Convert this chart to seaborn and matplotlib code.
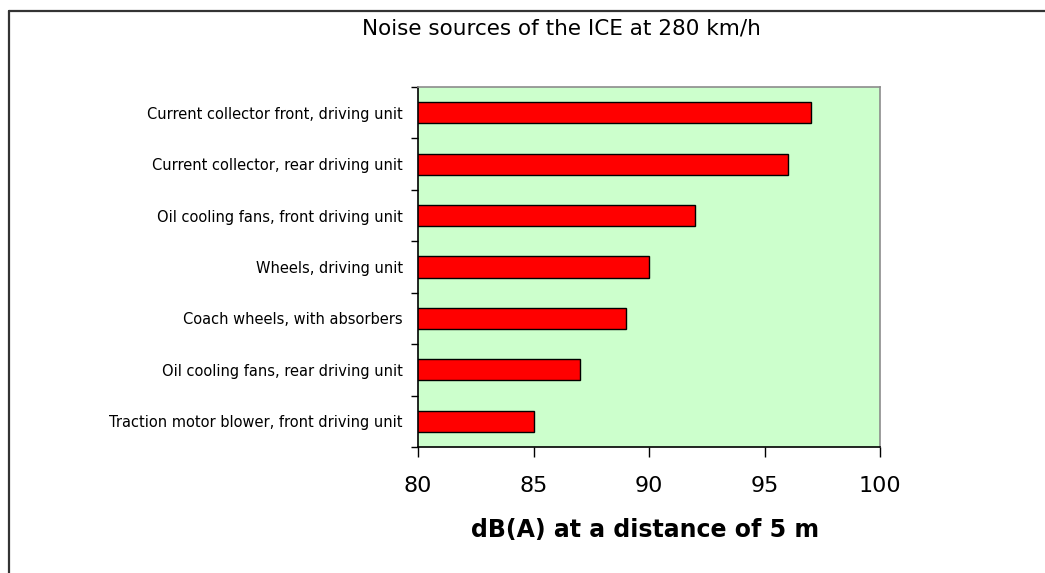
import matplotlib
matplotlib.use("Agg")
import matplotlib.pyplot as plt
import seaborn as sns
from matplotlib.lines import Line2D

sources = [
    "Current collector front, driving unit",
    "Current collector, rear driving unit",
    "Oil cooling fans, front driving unit",
    "Wheels, driving unit",
    "Coach wheels, with absorbers",
    "Oil cooling fans, rear driving unit",
    "Traction motor blower, front driving unit",
]
noise_db = [97, 96, 92, 90, 89, 87, 85]
x_ticks = [80, 85, 90, 95, 100]

sns.set_style("white")
plt.rcParams["font.family"] = ["DejaVu Sans"]
plt.rcParams["text.color"] = "black"
plt.rcParams["xtick.color"] = "black"
plt.rcParams["ytick.color"] = "black"

W, H = 1045, 573
fig = plt.figure(figsize=(W / 100, H / 100), dpi=100)
fig.patch.set_facecolor("white")

# outer frame (top + left edges visible)
fig.add_artist(Line2D([9 / W, 9 / W], [0, 1 - 11 / H], transform=fig.transFigure,
                      color="#333333", lw=1.6))
fig.add_artist(Line2D([9 / W, 1], [1 - 11 / H, 1 - 11 / H], transform=fig.transFigure,
                      color="#333333", lw=1.6))

ax = fig.add_axes([418 / W, 1 - 447 / H, (880 - 418) / W, (447 - 87) / H])
ax.set_facecolor("#ccffcc")

sns.barplot(x=noise_db, y=sources, orient="h", color="#ff0000",
            edgecolor="black", linewidth=1, width=0.41, saturation=1, ax=ax)

ax.set_xlim(80, 100)
ax.set_xticks(x_ticks)
ax.set_ylim(6.5, -0.5)
ax.set_yticks([i - 0.5 for i in range(len(sources) + 1)], minor=True)
ax.tick_params(axis="y", which="major", length=0, pad=11, labelsize=10.5, labelcolor="black")
ax.tick_params(axis="y", which="minor", length=5, width=1, color="black", direction="out", left=True)
ax.tick_params(axis="x", length=7, width=1, color="black", direction="out", bottom=True,
               pad=14, labelsize=16, labelcolor="black")
ax.set_xlabel("")
ax.set_ylabel("")

for s in ["top", "right"]:
    ax.spines[s].set_color("#8c8c8c")
    ax.spines[s].set_linewidth(1.2)
for s in ["left", "bottom"]:
    ax.spines[s].set_color("black")
    ax.spines[s].set_linewidth(1.2)

fig.text(561 / W, 1 - 28 / H, "Noise sources of the ICE at 280 km/h",
         ha="center", va="center", fontsize=15.5, color="black")
fig.text(645 / W, 1 - 530 / H, "dB(A) at a distance of 5 m",
         ha="center", va="center", fontsize=17, fontweight="bold", color="black")

fig.savefig("out.png", dpi=100)
